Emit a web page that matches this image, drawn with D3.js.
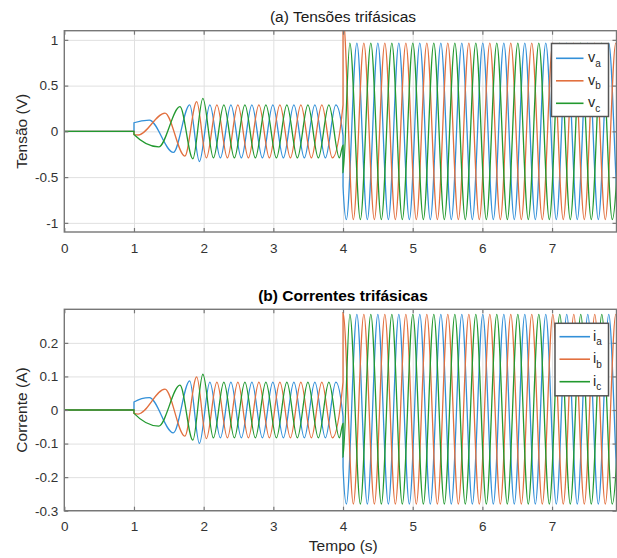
<!DOCTYPE html>
<html>
<head>
<meta charset="utf-8">
<script src="https://cdn.jsdelivr.net/npm/d3@7"></script>
<style>
body { margin: 0; background: #fff; }
svg { display: block; font-family: "Liberation Sans", Arial, sans-serif; }
</style>
</head>
<body>
<svg id="chart" width="617" height="558"></svg>
<script>
// extrema of each phase (time in s)
var tA = [0, 1, 1, 1.22, 1.565, 1.80, 1.939,
  2.089, 2.240, 2.391, 2.541, 2.692, 2.843, 2.993, 3.144, 3.295, 3.445, 3.596, 3.747, 3.897,
  4, 4, 4.048, 4.199, 4.349, 4.500, 4.651, 4.801, 4.952, 5.102, 5.253, 5.404, 5.554, 5.705,
  5.856, 6.006, 6.157, 6.308, 6.458, 6.609, 6.760, 6.910, 7.061, 7.211, 7.362, 7.513, 7.664,
  7.814, 7.965, 8.115];
var tB = [0, 1, 1, 1.06, 1.445, 1.73, 1.90,
  2.039, 2.190, 2.341, 2.491, 2.642, 2.793, 2.943, 3.094, 3.245, 3.395, 3.546, 3.696, 3.847,
  4, 4, 4.148, 4.299, 4.450, 4.600, 4.751, 4.902, 5.052, 5.203, 5.354, 5.504, 5.655, 5.806,
  5.956, 6.107, 6.258, 6.408, 6.559, 6.709, 6.860, 7.011, 7.161, 7.312, 7.463, 7.613, 7.764,
  7.915, 8.065];
var tC = [0, 1, 1, 1.355, 1.66, 1.845, 1.989,
  2.140, 2.290, 2.441, 2.592, 2.742, 2.893, 3.044, 3.194, 3.345, 3.496, 3.646, 3.797, 3.948,
  4, 4, 4.098, 4.249, 4.399, 4.550, 4.701, 4.851, 5.002, 5.153, 5.303, 5.454, 5.605, 5.755,
  5.906, 6.057, 6.207, 6.358, 6.509, 6.659, 6.810, 6.961, 7.111, 7.262, 7.412, 7.563, 7.714,
  7.864, 8.015];

// voltages (V)
var vA = [0, 0, 0.094, 0.123, -0.23, 0.29, -0.33,
  0.29, -0.29, 0.29, -0.29, 0.29, -0.29, 0.29, -0.29, 0.29, -0.29, 0.29, -0.29, 0.29,
  -0.05, -0.6, -0.965, 0.965, -0.965, 0.965, -0.965, 0.965, -0.965, 0.965, -0.965, 0.965,
  -0.965, 0.965, -0.965, 0.965, -0.965, 0.965, -0.965, 0.965, -0.965, 0.965, -0.965, 0.965,
  -0.965, 0.965, -0.965, 0.965, -0.965, 0.965];
var vB = [0, 0, -0.035, -0.04, 0.2, -0.27, 0.325,
  -0.29, 0.29, -0.29, 0.29, -0.29, 0.29, -0.29, 0.29, -0.29, 0.29, -0.29, 0.29, -0.29,
  0.29, 1.25, -0.965, 0.965, -0.965, 0.965, -0.965, 0.965, -0.965, 0.965, -0.965, 0.965,
  -0.965, 0.965, -0.965, 0.965, -0.965, 0.965, -0.965, 0.965, -0.965, 0.965, -0.965, 0.965,
  -0.965, 0.965, -0.965, 0.965, -0.965];
var vC = [0, 0, -0.035, -0.17, 0.27, -0.30, 0.36,
  -0.29, 0.29, -0.29, 0.29, -0.29, 0.29, -0.29, 0.29, -0.29, 0.29, -0.29, 0.29, -0.29,
  -0.15, -0.45, 0.965, -0.965, 0.965, -0.965, 0.965, -0.965, 0.965, -0.965, 0.965, -0.965,
  0.965, -0.965, 0.965, -0.965, 0.965, -0.965, 0.965, -0.965, 0.965, -0.965, 0.965, -0.965,
  0.965, -0.965, 0.965, -0.965, 0.965];

// currents (A)
var iA = [0, 0, 0.024, 0.037, -0.068, 0.087, -0.0995,
  0.083, -0.083, 0.083, -0.083, 0.083, -0.083, 0.083, -0.083, 0.083, -0.083, 0.083, -0.083, 0.083,
  -0.02, -0.17, -0.28, 0.285, -0.28, 0.285, -0.28, 0.285, -0.28, 0.285, -0.28, 0.285,
  -0.28, 0.285, -0.28, 0.285, -0.28, 0.285, -0.28, 0.285, -0.28, 0.285, -0.28, 0.285,
  -0.28, 0.285, -0.28, 0.285, -0.28, 0.285];
var iB = [0, 0, -0.01, -0.012, 0.062, -0.078, 0.0985,
  -0.085, 0.083, -0.083, 0.083, -0.083, 0.083, -0.083, 0.083, -0.083, 0.083, -0.083, 0.083, -0.083,
  0.083, 0.29, -0.28, 0.285, -0.28, 0.285, -0.28, 0.285, -0.28, 0.285, -0.28, 0.285,
  -0.28, 0.285, -0.28, 0.285, -0.28, 0.285, -0.28, 0.285, -0.28, 0.285, -0.28, 0.285,
  -0.28, 0.285, -0.28, 0.285, -0.28];
var iC = [0, 0, -0.01, -0.048, 0.074, -0.09, 0.1065,
  -0.083, 0.083, -0.083, 0.083, -0.083, 0.083, -0.083, 0.083, -0.083, 0.083, -0.083, 0.083, -0.083,
  -0.04, -0.14, 0.285, -0.28, 0.285, -0.28, 0.285, -0.28, 0.285, -0.28, 0.285, -0.28,
  0.285, -0.28, 0.285, -0.28, 0.285, -0.28, 0.285, -0.28, 0.285, -0.28, 0.285, -0.28,
  0.285, -0.28, 0.285, -0.28, 0.285];

var xTicks = [0, 1, 2, 3, 4, 5, 6, 7];
var vTicks = [-1, -0.5, 0, 0.5, 1];
var iTicks = [-0.3, -0.2, -0.1, 0, 0.1, 0.2];
var phases = ["a", "b", "c"];
var colors = ["#3390d8", "#e2703f", "#22992f"];

var svg = d3.select("#chart");
var left = 64.3, right = 616.5;
var x = d3.scaleLinear().domain([0, 7.925]).range([left, right]);

var panels = [
  { id: "p1", top: 30.7, bottom: 232, dom: [-1.1, 1.1], ticks: vTicks,
    series: [d3.zip(tA, vA), d3.zip(tB, vB), d3.zip(tC, vC)], sym: "v",
    title: "(a) Tensões trifásicas", bold: false, titleY: 21.5, ylabel: "Tensão (V)",
    leg: { x: 551.5, y: 43.5, w: 57, h: 73, lx1: 556, lx2: 583.5, tx: 588, ty: 58.3 } },
  { id: "p2", top: 309.3, bottom: 510.7, dom: [-0.3, 0.3], ticks: iTicks,
    series: [d3.zip(tA, iA), d3.zip(tB, iB), d3.zip(tC, iC)], sym: "i",
    title: "(b) Correntes trifásicas", bold: true, titleY: 301, ylabel: "Corrente (A)",
    leg: { x: 555, y: 323.3, w: 53.5, h: 72.5, lx1: 559.5, lx2: 590, tx: 593, ty: 336.7 } }
];

var fmt = function(d) { return String(d); };

panels.forEach(function(p) {
  var y = d3.scaleLinear().domain(p.dom).range([p.bottom, p.top]);
  var h = p.bottom - p.top;
  var g = svg.append("g");

  // grid
  g.append("g")
    .attr("transform", "translate(0," + p.bottom + ")")
    .call(d3.axisBottom(x).tickValues(xTicks.slice(1)).tickSize(-h).tickFormat(""))
    .call(function(s) { s.select(".domain").remove(); })
    .selectAll("line").attr("stroke", "#e0e0e0");
  g.append("g")
    .attr("transform", "translate(" + left + ",0)")
    .call(d3.axisLeft(y).tickValues(p.ticks).tickSize(-(right - left)).tickFormat(""))
    .call(function(s) { s.select(".domain").remove(); })
    .selectAll("line").attr("stroke", "#e0e0e0");

  // data
  svg.append("clipPath").attr("id", "clip-" + p.id)
    .append("rect").attr("x", left).attr("y", p.top)
    .attr("width", right - left).attr("height", h);
  var line = d3.line()
    .x(function(d) { return x(d[0]); })
    .y(function(d) { return y(d[1]); })
    .curve(d3.curveMonotoneX);
  g.append("g").attr("clip-path", "url(#clip-" + p.id + ")")
    .selectAll("path").data(p.series).enter()
    .append("path")
    .attr("d", line)
    .attr("fill", "none")
    .attr("stroke", function(d, i) { return colors[i]; })
    .attr("stroke-width", 1.3);

  // box + inward ticks
  g.append("rect").attr("x", left).attr("y", p.top)
    .attr("width", right - left).attr("height", h)
    .attr("fill", "none").attr("stroke", "#777").attr("stroke-width", 1.4);
  var ax = [
    [d3.axisBottom(x).tickValues(xTicks).tickFormat(fmt).tickPadding(11), "translate(0," + p.bottom + ")"],
    [d3.axisTop(x).tickValues(xTicks).tickFormat(""), "translate(0," + p.top + ")"],
    [d3.axisLeft(y).tickValues(p.ticks).tickFormat(fmt).tickPadding(6), "translate(" + left + ",0)"],
    [d3.axisRight(y).tickValues(p.ticks).tickFormat(""), "translate(" + right + ",0)"]
  ];
  ax.forEach(function(a) {
    var s = g.append("g").attr("transform", a[1])
      .call(a[0].tickSizeInner(-4).tickSizeOuter(0));
    s.select(".domain").remove();
    s.selectAll("line").attr("stroke", "#777").attr("stroke-width", 1.2);
    s.selectAll("text").attr("fill", "#333").attr("font-size", 13.5)
      .attr("font-family", "Liberation Sans, Arial, sans-serif");
  });

  // titles
  g.append("text").attr("x", 343).attr("y", p.titleY)
    .attr("text-anchor", "middle").attr("font-size", 15.5)
    .attr("font-weight", p.bold ? "bold" : "normal")
    .attr("fill", p.bold ? "#000" : "#1a1a1a")
    .text(p.title);
  g.append("text")
    .attr("transform", "translate(26.5," + ((p.top + p.bottom) / 2) + ") rotate(-90)")
    .attr("text-anchor", "middle").attr("font-size", 15.5).attr("fill", "#262626")
    .text(p.ylabel);

  // legend
  var L = p.leg;
  var lg = g.append("g");
  lg.append("rect").attr("x", L.x).attr("y", L.y).attr("width", L.w).attr("height", L.h)
    .attr("fill", "#fff").attr("stroke", "#555").attr("stroke-width", 1.5);
  phases.forEach(function(ph, i) {
    var ry = L.ty + i * 22.5;
    lg.append("line").attr("x1", L.lx1).attr("x2", L.lx2).attr("y1", ry).attr("y2", ry)
      .attr("stroke", colors[i]).attr("stroke-width", 1.6);
    var t = lg.append("text").attr("x", L.tx).attr("y", ry + 3.8)
      .attr("font-size", 14.5).attr("fill", "#262626");
    t.append("tspan").text(p.sym);
    t.append("tspan").attr("dy", 4.8).attr("font-size", 10).text(ph);
  });
});

svg.append("text").attr("x", 343.3).attr("y", 550.5)
  .attr("text-anchor", "middle").attr("font-size", 15.5).attr("fill", "#262626")
  .text("Tempo (s)");
</script>
</body>
</html>
